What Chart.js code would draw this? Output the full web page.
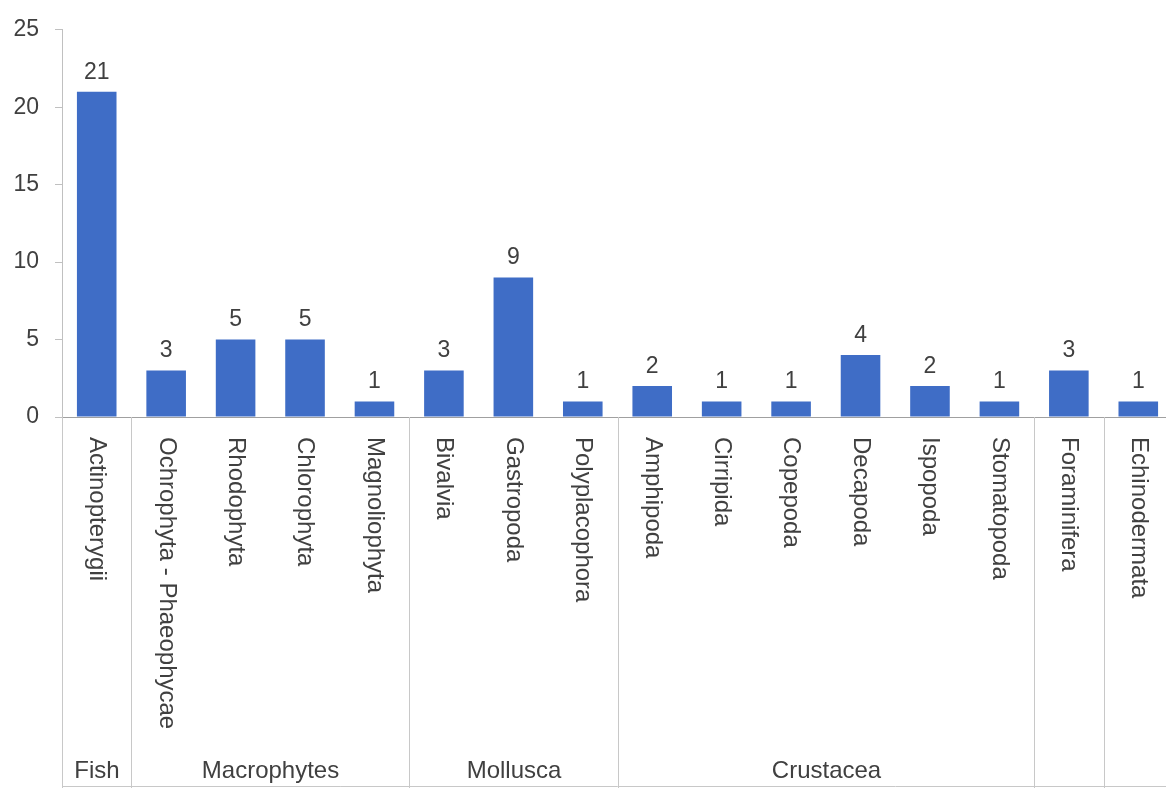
<!DOCTYPE html>
<html>
<head>
<meta charset="utf-8">
<script src="https://cdn.jsdelivr.net/npm/chart.js@4.4.0/dist/chart.umd.min.js"></script>
<style>
  html, body { margin: 0; padding: 0; background: #fff; overflow: hidden; }
  #wrap { width: 1173px; height: 788px; position: relative; }
</style>
</head>
<body>
<div id="wrap"><canvas id="chart"></canvas></div>
<script>
const classes = ['Actinopterygii', 'Ochrophyta - Phaeophycae', 'Rhodophyta', 'Chlorophyta', 'Magnoliophyta',
  'Bivalvia', 'Gastropoda', 'Polyplacophora', 'Amphipoda', 'Cirripida', 'Copepoda', 'Decapoda',
  'Ispopoda', 'Stomatopoda', 'Foraminifera', 'Echinodermata'];
const counts = [21, 3, 5, 5, 1, 3, 9, 1, 2, 1, 1, 4, 2, 1, 3, 1];
const groups = ['Fish', 'Macrophytes', 'Mollusca', 'Crustacea', '', ''];
const groupSizes = [1, 4, 3, 6, 1, 1];

const FONT = '"Liberation Sans", Arial, sans-serif';
const TEXT = '#404040';

// category labels, group row, separators and value labels
const groupAxis = {
  id: 'groupAxis',
  afterDraw(chart) {
    const { ctx, scales: { x } } = chart;
    const bottom = chart.chartArea.bottom;
    const half = (x.getPixelForValue(1) - x.getPixelForValue(0)) / 2;
    ctx.save();

    // value labels
    ctx.fillStyle = TEXT;
    ctx.font = '23px ' + FONT;
    ctx.textAlign = 'center';
    ctx.textBaseline = 'bottom';
    chart.getDatasetMeta(0).data.forEach((bar, i) => {
      ctx.fillText(String(counts[i]), bar.x, bar.y - 8);
    });

    // rotated class labels
    ctx.font = '24px ' + FONT;
    ctx.textAlign = 'left';
    ctx.textBaseline = 'middle';
    classes.forEach((name, i) => {
      ctx.save();
      ctx.translate(x.getPixelForValue(i), bottom + 20);
      ctx.rotate(Math.PI / 2);
      ctx.fillText(name, 0, 0);
      ctx.restore();
    });

    // separators + group names
    ctx.strokeStyle = '#c8c8c8';
    ctx.lineWidth = 1;
    let start = 0;
    const edge = b => Math.round(x.getPixelForValue(b) - half) + 0.5;
    ctx.beginPath();
    ctx.moveTo(edge(0), bottom);
    ctx.lineTo(edge(0), 788);
    groups.forEach((g, k) => {
      const end = start + groupSizes[k];
      ctx.moveTo(edge(end), bottom);
      ctx.lineTo(edge(end), 788);
      start = end;
    });
    ctx.moveTo(edge(0), 786.5);
    ctx.lineTo(chart.width, 786.5);
    ctx.stroke();

    ctx.textAlign = 'center';
    ctx.textBaseline = 'middle';
    start = 0;
    groups.forEach((g, k) => {
      const end = start + groupSizes[k];
      const cx = (edge(start) + edge(end)) / 2;
      if (g) ctx.fillText(g, cx, 771);
      start = end;
    });
    ctx.restore();
  }
};

new Chart(document.getElementById('chart'), {
  type: 'bar',
  data: {
    labels: classes,
    datasets: [{
      data: counts,
      backgroundColor: '#3F6DC6',
      borderWidth: 0,
      barPercentage: 0.57,
      categoryPercentage: 1
    }]
  },
  options: {
    responsive: true,
    maintainAspectRatio: false,
    animation: false,
    layout: { padding: { top: 27, right: 0, left: 0, bottom: 0 } },
    plugins: { legend: { display: false }, tooltip: { enabled: false } },
    scales: {
      x: {
        ticks: { display: false },
        grid: { display: false },
        border: { display: true, color: '#a0a0a0' },
        afterFit: s => { s.height = 371; }
      },
      y: {
        min: 0,
        max: 25,
        ticks: { stepSize: 5, padding: 16, color: TEXT, font: { family: FONT, size: 23 } },
        grid: { drawOnChartArea: false, drawTicks: true, tickLength: 7, color: '#c0c0c0' },
        border: { display: true, color: '#c0c0c0' },
        afterFit: s => { s.width = 62; }
      }
    }
  },
  plugins: [groupAxis]
});
</script>
</body>
</html>
